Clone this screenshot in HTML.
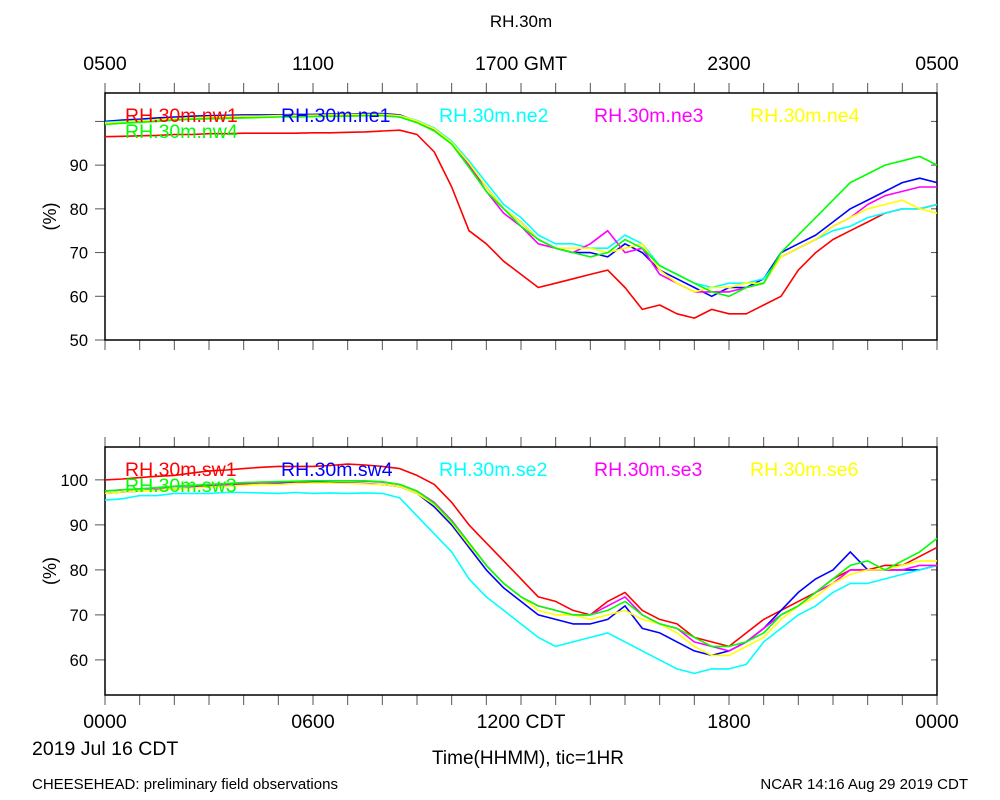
<!DOCTYPE html>
<html><head><meta charset="utf-8"><style>
body{margin:0;background:#fff;}
svg{display:block;font-family:"Liberation Sans",sans-serif;}
</style></head><body>
<svg id="chart" width="1000" height="800" viewBox="0 0 1000 800">
<rect x="0" y="0" width="1000" height="800" fill="#fff"/>
<text x="521" y="27" font-size="17" text-anchor="middle">RH.30m</text>
<g id="axes"></g>
<g id="series"></g>
<g id="legend"></g>
<text x="32" y="755" font-size="19.5">2019 Jul 16 CDT</text>
<text x="528" y="764" font-size="19" text-anchor="middle">Time(HHMM), tic=1HR</text>
<text x="32" y="789" font-size="15">CHEESEHEAD: preliminary field observations</text>
<text x="968" y="789" font-size="15" text-anchor="end">NCAR 14:16 Aug 29 2019 CDT</text>
</svg>
<script>
const hours = Array.from({length:49},(_, i)=>i/2);
const topNames = ["RH.30m.nw1","RH.30m.ne1","RH.30m.ne2","RH.30m.ne3","RH.30m.ne4","RH.30m.nw4"];
const topColors = ["#ff0000","#0000ff","#00ffff","#ff00ff","#ffff00","#00ff00"];
const nw1 = [96.5,96.6,96.7,96.8,97,97,97.2,97.2,97.3,97.3,97.3,97.3,97.4,97.4,97.5,97.6,97.8,98,97,93,85,75,72,68,65,62,63,64,65,66,62,57,58,56,55,57,56,56,58,60,66,70,73,75,77,79,80,80,81];
const ne1 = [100,100.3,100.5,100.8,101,101.2,101.3,101.4,101.5,101.5,101.5,101.6,101.6,101.7,101.7,101.8,101.8,101.5,100,98,95,90,85,80,77,73,71,70,70,69,72,70,66,64,62,60,62,62,64,70,72,74,77,80,82,84,86,87,86];
const ne2 = [99.8,100,100.2,100.4,100.6,100.8,101,101,101.1,101.2,101.2,101.3,101.3,101.4,101.4,101.5,101.5,101.3,100.2,98.5,95.5,91,86,81,78,74,72,72,71,71,74,72,67,65,63,62,63,63,64,69,71,73,75,76,78,79,80,80,81];
const ne3 = [99.5,99.8,100,100.2,100.5,100.6,100.8,100.9,101,101,101.1,101.1,101.2,101.2,101.3,101.3,101.3,101,99.8,98,95,90,84,79,76,72,71,70,72,75,70,71,65,63,61,61,61,62,63,69,71,73,76,78,81,83,84,85,85];
const ne4 = [99.6,99.9,100.1,100.4,100.6,100.8,101,101.1,101.2,101.2,101.3,101.4,101.4,101.5,101.6,101.6,101.6,101.3,100.1,98.3,95.2,90.5,85,80,77,73,71,71,71,70,71,72,66,63,61,62,62,63,63,69,71,73,76,78,80,81,82,80,79];
const nw4 = [99.3,99.6,99.8,100,100.3,100.5,100.6,100.7,100.8,100.9,101,101,101.1,101.2,101.2,101.3,101.3,101,99.7,97.8,94.8,89.5,84,80,76,73,71,70,69,70,73,71,67,65,63,61,60,62,63,70,74,78,82,86,88,90,91,92,90];
const topSeries = [nw1,ne1,ne2,ne3,ne4,nw4];

const botNames = ["RH.30m.sw1","RH.30m.sw4","RH.30m.se2","RH.30m.se3","RH.30m.se6","RH.30m.sw3"];
const botColors = ["#ff0000","#0000ff","#00ffff","#ff00ff","#ffff00","#00ff00"];
const sw1 = [100,100.2,100.5,100.8,101,101.5,102,102.2,102.5,102.8,103,103,103,103.2,103.5,103.3,103,102.5,101,99,95,90,86,82,78,74,73,71,70,73,75,71,69,68,65,64,63,66,69,71,73,75,78,80,80,81,81,83,85];
const sw4 = [97,97.3,97.5,97.8,98,98.3,98.5,98.8,99,99.2,99.3,99.5,99.5,99.4,99.3,99.2,99,98.5,97,94,90,85,80,76,73,70,69,68,68,69,72,67,66,64,62,61,62,64,67,71,75,78,80,84,80,80,80,80,81];
const se2 = [95.5,95.8,96.5,96.5,97,97,97,97.2,97.2,97.1,97,97.2,97,97.1,97,97.1,97,96,92,88,84,78,74,71,68,65,63,64,65,66,64,62,60,58,57,58,58,59,64,67,70,72,75,77,77,78,79,80,81];
const se3 = [97.5,97.8,98,98.2,98.5,98.7,98.8,99,99.2,99.3,99.5,99.6,99.8,99.8,99.8,99.7,99.5,99,97.5,95,91,86,81,77,74,72,71,70,70,72,74,70,68,67,64,63,62,64,67,70,72,75,77,80,80,80,80,81,81];
const se6 = [97,97.3,97.5,97.7,98,98.2,98.4,98.6,98.8,99,99,99.2,99.3,99.3,99.2,99.1,99,98.5,97,94.5,90.5,85.5,81,77,74,71,70,70,69,70,71,69,68,66,63,61,61,63,65,69,72,74,77,79,80,80,81,82,82];
const sw3 = [97.5,97.8,98,98.3,98.6,98.8,99,99.2,99.4,99.5,99.6,99.7,99.8,99.8,99.8,99.8,99.6,99,97.5,94.8,90.8,86,81,77,74,72,71,70,70,71,73,70,68,67,65,63,63,64,66,70,72,75,78,81,82,80,82,84,87];
const botSeries = [sw1,sw4,se2,se3,se6,sw3];

const topTicks = ["0500","1100","1700 GMT","2300","0500"];
const botTicks = ["0000","0600","1200 CDT","1800","0000"];
const topYTicks = [50,60,70,80,90];
const botYTicks = [60,70,80,90,100];

const X0=105, X1=937;
function xScale(h){return X0+(X1-X0)*h/24;}
const panels = [
 {name:"top",y0:93,y1:340,vmin:50,vmax:106.5,series:topSeries,names:topNames,colors:topColors,yt:topYTicks,extraY:[100],xlab:topTicks,xlabTop:true},
 {name:"bottom",y0:447,y1:695,vmin:52.2,vmax:107.3,series:botSeries,names:botNames,colors:botColors,yt:botYTicks,extraY:[],xlab:botTicks,xlabTop:false}
];
const NS="http://www.w3.org/2000/svg";
const axes=document.getElementById("axes"), ser=document.getElementById("series"), leg=document.getElementById("legend");
function mk(tag,attrs,parent){const e=document.createElementNS(NS,tag);for(const k in attrs)e.setAttribute(k,attrs[k]);parent.appendChild(e);return e;}
const legX=[125,281,439,594,750];
panels.forEach(p=>{
  const yS=v=>p.y1-(v-p.vmin)*(p.y1-p.y0)/(p.vmax-p.vmin);
  const g=mk("g",{},axes);
  
  
  for(let h=0;h<=24;h++){
    const x=xScale(h);
    mk("line",{x1:x,x2:x,y1:p.y0,y2:p.y0-10,stroke:"#555","stroke-width":1},g);
    mk("line",{x1:x,x2:x,y1:p.y1,y2:p.y1+10,stroke:"#555","stroke-width":1},g);
  }
  p.yt.concat(p.extraY).forEach(v=>{
    const y=yS(v);
    mk("line",{x1:X0,x2:X0-10,y1:y,y2:y,stroke:"#555","stroke-width":1},g);
    mk("line",{x1:X1,x2:X1-6,y1:y,y2:y,stroke:"#555","stroke-width":1},g);
  });
  p.yt.forEach(v=>{
    const t=mk("text",{x:88,y:yS(v)+6,"font-size":16.5,"text-anchor":"end"},g);
    
    
    t.textContent=v;
  });
  const yt=mk("text",{x:50,y:(p.y0+p.y1)/2,"font-size":18,"text-anchor":"middle",transform:`rotate(-90 50 ${(p.y0+p.y1)/2})`},g);
  
  
  yt.setAttribute('dy','6');
  yt.textContent="(%)";
  p.xlab.forEach((s,i)=>{
    const t=mk("text",{x:xScale(i*6),y:p.xlabTop?70:728,"font-size":19.5,"text-anchor":"middle"},g);
    
    
    t.textContent=s;
  });
  const sg=mk("g",{},ser);
  
  
  p.series.forEach((arr,k)=>{
    const pts=arr.map((v,i)=>xScale(hours[i]).toFixed(1)+","+yS(v).toFixed(1)).join(" ");
    const l=mk("polyline",{points:pts,fill:"none",stroke:p.colors[k],"stroke-width":1.6,"stroke-linejoin":"round"},sg);
    
    
  });
  mk("rect",{x:X0,y:p.y0,width:X1-X0,height:p.y1-p.y0,fill:"none",stroke:"#000","stroke-width":1.5},g);
  p.names.forEach((n,k)=>{
    const x=k<5?legX[k]:legX[0];
    const y=k<5?p.y0+29:p.y0+45;
    const t=mk("text",{x:x,y:y,"font-size":19.5,fill:p.colors[k]},leg);
    
    
    t.textContent=n;
  });
});
</script>
</body></html>
